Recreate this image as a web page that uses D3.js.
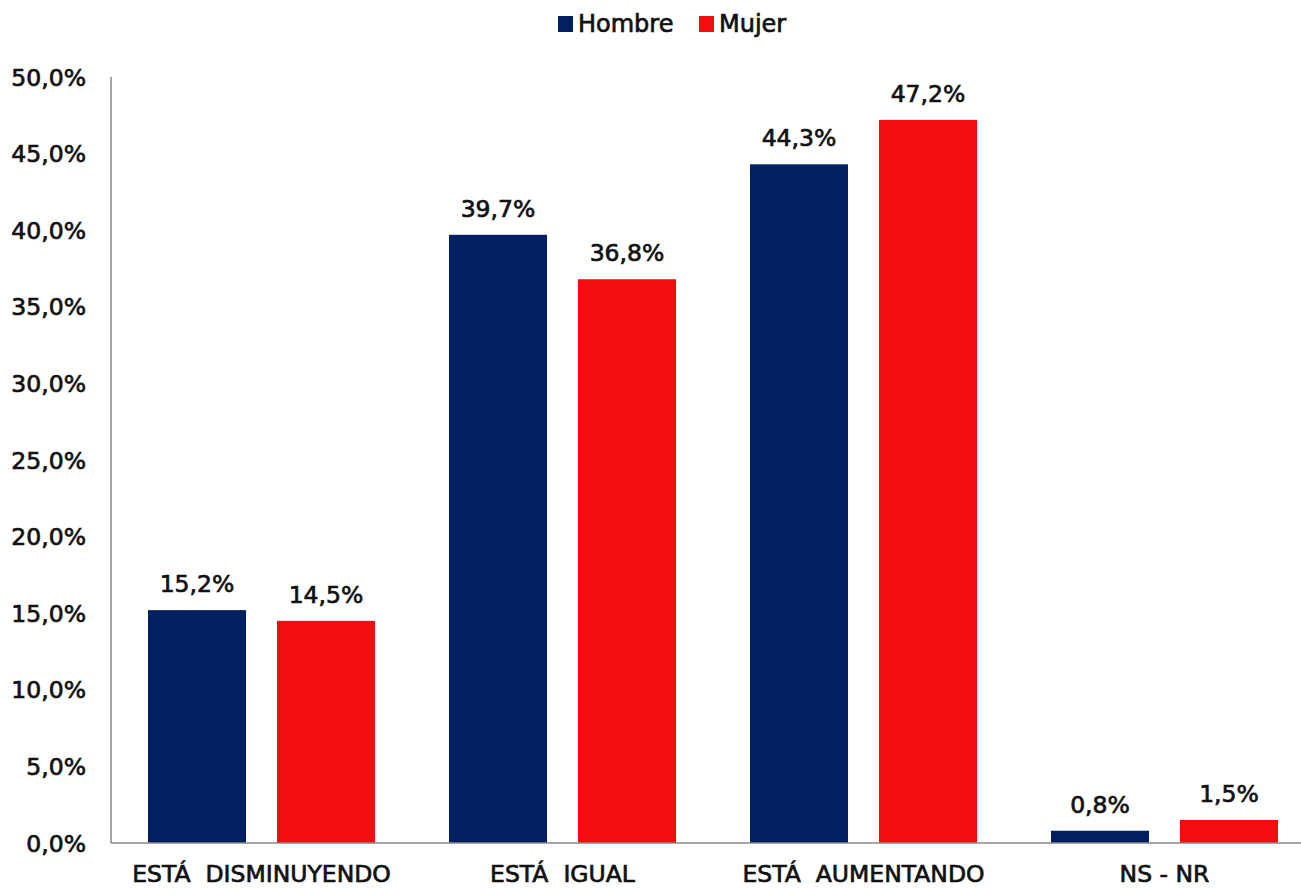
<!DOCTYPE html>
<html>
<head>
<meta charset="utf-8">
<script src="https://cdn.jsdelivr.net/npm/d3@7"></script>
<style>
  html, body { margin: 0; padding: 0; background: #fff; }
  svg text { font-family: "DejaVu Sans", sans-serif; fill: #111; stroke: #111; stroke-width: 0.7px; }
</style>
</head>
<body>
<svg id="chart" width="1301" height="888"></svg>
<script>
const categories = ["ESTÁ  DISMINUYENDO", "ESTÁ  IGUAL", "ESTÁ  AUMENTANDO", "NS - NR"];
const seriesNames = ["Hombre", "Mujer"];
const hombre = [15.2, 39.7, 44.3, 0.8];
const mujer = [14.5, 36.8, 47.2, 1.5];
const yTicks = [0, 5, 10, 15, 20, 25, 30, 35, 40, 45, 50];
const colors = ["#00205f", "#f50c0e"];

const seriesValues = [hombre, mujer];
const svg = d3.select("#chart");
const fmt = v => v.toFixed(1).replace(".", ",") + "%";

const y = d3.scaleLinear().domain([0, 50]).range([843, 77]);
const x0 = d3.scaleBand().domain(categories).range([111, 1315]).paddingInner(0).paddingOuter(0);
const x1 = d3.scaleBand().domain(seriesNames).range([37, 264]).paddingInner(31 / 129).paddingOuter(0);
const color = d3.scaleOrdinal().domain(seriesNames).range(colors);

// Y tick labels
svg.append("g").selectAll("text").data(yTicks).join("text")
  .attr("x", 86).attr("y", d => y(d) + 8.5)
  .attr("text-anchor", "end").attr("font-size", 23.5)
  .text(d => fmt(d));

// Bars
const groups = svg.append("g").selectAll("g").data(categories).join("g")
  .attr("transform", c => `translate(${x0(c)},0)`);

groups.selectAll("rect").data((c, i) => seriesNames.map((s, j) => ({ s, v: seriesValues[j][i] })))
  .join("rect")
  .attr("x", d => x1(d.s)).attr("width", x1.bandwidth())
  .attr("y", d => y(d.v)).attr("height", d => y(0) - y(d.v))
  .attr("fill", d => color(d.s));

groups.selectAll("text.lbl").data((c, i) => seriesNames.map((s, j) => ({ s, v: seriesValues[j][i] })))
  .join("text").attr("class", "lbl")
  .attr("x", d => x1(d.s) + x1.bandwidth() / 2).attr("y", d => y(d.v) - 18)
  .attr("text-anchor", "middle").attr("font-size", 23.5)
  .text(d => fmt(d.v));

// Axes lines
svg.append("line").attr("x1", 111).attr("x2", 111).attr("y1", y(50)).attr("y2", y(0))
  .attr("stroke", "#888").attr("stroke-width", 1.5);
svg.append("line").attr("x1", 111).attr("x2", 1301).attr("y1", y(0)).attr("y2", y(0))
  .attr("stroke", "#888").attr("stroke-width", 1.5);

// Category labels
svg.append("g").selectAll("text").data(categories).join("text")
  .attr("x", c => x0(c) + x1.range()[0] + (x1.range()[1] - x1.range()[0]) / 2)
  .attr("y", 882).attr("text-anchor", "middle").attr("font-size", 23.5)
  .attr("xml:space", "preserve").style("white-space", "pre")
  .text(c => c);

// Legend
const legendX = [558, 699];
const lg = svg.append("g").selectAll("g").data(seriesNames).join("g")
  .attr("transform", (d, i) => `translate(${legendX[i]},0)`);
lg.append("rect").attr("x", 0).attr("y", 16).attr("width", 15).attr("height", 16).attr("fill", d => color(d));
lg.append("text").attr("x", 20).attr("y", 32).attr("font-size", 24).text(d => d);
</script>
</body>
</html>
